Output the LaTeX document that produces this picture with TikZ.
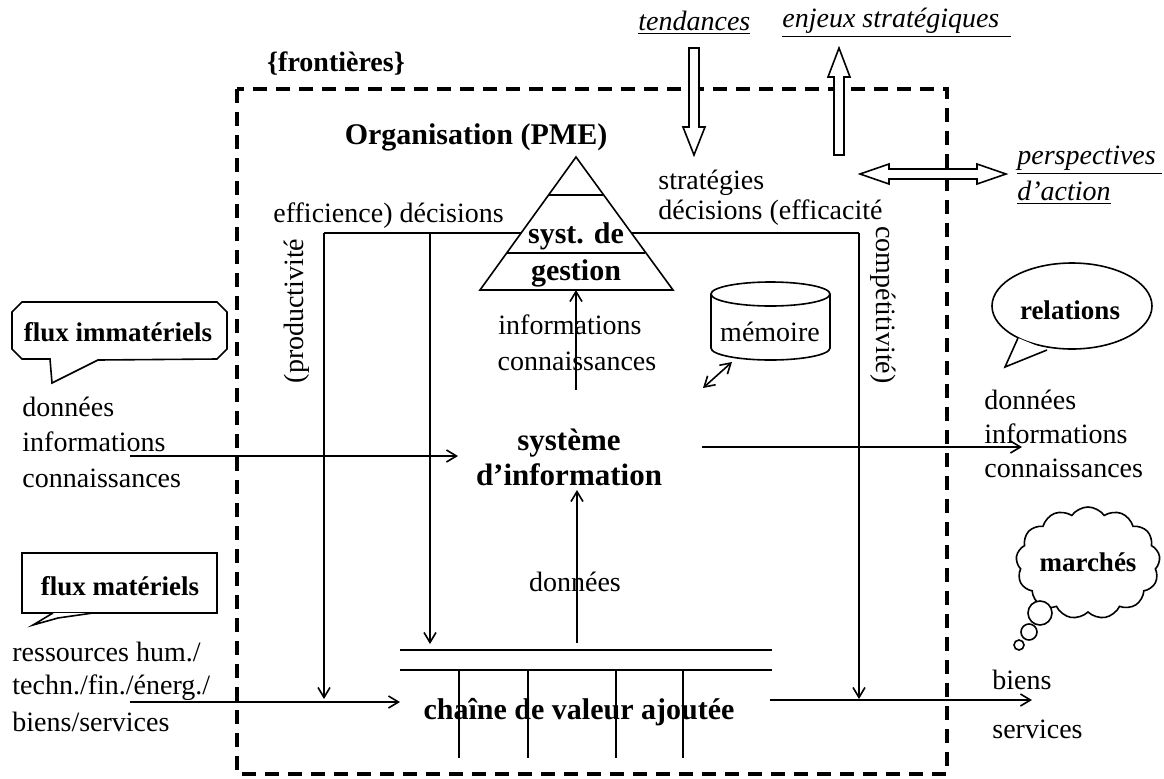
\documentclass[tikz,border=0pt]{standalone}
\usepackage{fontspec}
\setmainfont{Liberation Serif}
\usetikzlibrary{shapes.symbols,shapes.geometric,arrows.meta}
\begin{document}
\begin{tikzpicture}[x=0.5pt,y=-0.5pt,
  txt/.style={inner sep=0pt,font=\fontsize{14}{17}\selectfont},
  btxt/.style={inner sep=0pt,font=\fontsize{15}{17}\selectfont\bfseries},
  conn/.style={line width=0.8pt},
  arr/.style={line width=0.8pt,-{Straight Barb[length=5pt,width=6pt]}},
  hollow/.style={line width=0.8pt,fill=white},
  frame/.style={line width=1.8pt,dash pattern=on 7pt off 4.5pt}]
\useasboundingbox (0,0) rectangle (1164,778);
% frame
\draw[frame] (237,89) rectangle (947,774);
\node[btxt,font=\fontsize{14}{17}\selectfont\bfseries] (front) at (336,64) {\{frontières\}};
% top texts
\node[txt,anchor=west] (tend) at (638,23) {\underline{\textit{tendances}}};
\node[txt,anchor=west] (enj) at (782,23) {\underline{\textit{enjeux stratégiques}\hspace{6pt}}};
\node[txt,anchor=west,align=left] (persp) at (1017,160) {\underline{\textit{perspectives}\hspace{3pt}}};
\node[txt,anchor=west] (dact) at (1017,193) {\underline{\textit{d’action}}};
% hollow arrows
\draw[hollow] (689,48) -- (699,48) -- (699,127) -- (705,127) -- (694,155) -- (683,127) -- (689,127) -- cycle;
\draw[hollow] (834,155) -- (844,155) -- (844,77) -- (850,77) -- (839,48) -- (828,77) -- (834,77) -- cycle;
\draw[hollow] (860,174) -- (889,164) -- (889,169) -- (977,169) -- (977,164) -- (1006,174) -- (977,184) -- (977,179) -- (889,179) -- (889,184) -- cycle;
% organisation
\node[btxt] (org) at (476,137) {Organisation (PME)};
\coordinate (apex) at (576,157);
\coordinate (bl) at (480,290);
\coordinate (br) at (673,290);
\draw[conn] (apex) -- (bl) -- (br) -- cycle;
\draw[conn] (548.6,195) -- (603.4,195);
\draw[conn] (506.7,253) -- (645.3,253);
\node[btxt] (syst) at (576,236) {syst. de};
\node[btxt] (gest) at (576,273) {gestion};
% decisions lines
\coordinate (tl) at (521,233);
\coordinate (tr) at (631,233);
\coordinate (c1) at (324,233);
\coordinate (c2) at (430,233);
\coordinate (c3) at (859,233);
\coordinate (c1e) at (324,699);
\coordinate (c2e) at (430,644);
\coordinate (c3e) at (859,699);
\draw[conn] (tl) -- (c1);
\draw[arr] (c1) -- (c1e);
\draw[arr] (c2) -- (c2e);
\draw[conn] (tr) -- (c3);
\draw[arr] (c3) -- (c3e);
\node[txt,anchor=west] (effl) at (273,216) {efficience) décisions};
\node[txt,anchor=west] (strat) at (658,183) {stratégies};
\node[txt,anchor=west] (decr) at (658,213) {décisions (efficacité};
\node[txt,rotate=90] (prod) at (297,311) {(productivité};
\node[txt,rotate=-90] (comp) at (883,305) {compétitivité)};
% info arrow
\coordinate (ia) at (576,390);
\draw[arr] (ia) -- (576,290);
\node[txt] (inf1) at (570,325) {informations};
\node[txt] (inf2) at (577,361) {connaissances};
% memoire
\draw[conn,fill=white] (711,294) -- (711,348) arc[start angle=180,end angle=0,x radius=59.5,y radius=12] -- (830,294);
\draw[conn] (770.5,294) ellipse [x radius=59.5,y radius=12];
\node[txt] (mem) at (770,332) {mémoire};
\coordinate (m1) at (703,388);
\coordinate (m2) at (732,362);
\draw[line width=0.8pt,{Straight Barb[length=5pt,width=6pt]}-{Straight Barb[length=5pt,width=6pt]}] (m1) -- (m2);
% systeme d'information
\node[btxt,align=center,font=\fontsize{15.5}{17.5}\selectfont\bfseries] (si) at (569,457) {système\\d’information};
\coordinate (inL) at (130,456);
\coordinate (inR) at (458,456);
\draw[arr] (inL) -- (inR);
\coordinate (outL) at (702,447);
\coordinate (outR) at (1022,447);
\draw[arr] (outL) -- (outR);
% donnees arrow
\coordinate (dB) at (577,643);
\coordinate (dT) at (577,490);
\draw[arr] (dB) -- (dT);
\node[txt] (don) at (575,582) {données};
% chain
\draw[conn] (400,650) -- (772,650);
\draw[conn] (400,670) -- (772,670);
\foreach \xx in {459,528,616,683} {\draw[conn] (\xx,670) -- (\xx,758);}
\node[btxt] (chain) at (579,712) {chaîne de valeur ajoutée};
\coordinate (chL) at (130,702);
\coordinate (chLe) at (400,702);
\draw[arr] (chL) -- (chLe);
\coordinate (chR) at (770,700);
\coordinate (chRe) at (1032,700);
\draw[arr] (chR) -- (chRe);
% left texts
\node[txt,anchor=west] (l1) at (22,407) {données};
\node[txt,anchor=west] (l2) at (22,442) {informations};
\node[txt,anchor=west] (l3) at (22,478) {connaissances};
\node[txt,anchor=west] (l4) at (12,652) {ressources hum./};
\node[txt,anchor=west] (l5) at (12,688) {techn./fin./énerg./};
\node[txt,anchor=west] (l6) at (12,722) {biens/services};
% right texts
\node[txt,anchor=west] (r1) at (984,400) {données};
\node[txt,anchor=west] (r2) at (984,434) {informations};
\node[txt,anchor=west] (r3) at (984,468) {connaissances};
\node[txt,anchor=west] (r4) at (992,680) {biens};
\node[txt,anchor=west] (r5) at (992,729) {services};
% callouts
\draw[conn,fill=white] (22,302) -- (217,302) -- (227,312) -- (227,349) -- (217,359) -- (98,360) -- (52,383) -- (50,359) -- (22,359) -- (12,349) -- (12,312) -- cycle;
\node[btxt,font=\fontsize{13.5}{16}\selectfont\bfseries] (fimm) at (118,332) {flux immatériels};
\draw[conn] (22,553) rectangle (217,613);
\draw[conn,fill=white] (53,613) -- (33,625) -- (58,618) -- (93,613);
\node[btxt,font=\fontsize{13.5}{16}\selectfont\bfseries] (fmat) at (120,586) {flux matériels};
\node[draw,ellipse,line width=0.8pt,minimum width=80pt,minimum height=43pt,inner sep=0pt] (rel) at (1072,306) {};
\node[btxt,font=\fontsize{13.5}{16}\selectfont\bfseries] (relt) at (1070,310) {relations};
\draw[conn,fill=white] (1018,338) -- (1005,367) -- (1047,350);
\node[cloud,draw,line width=0.8pt,cloud puffs=13,cloud puff arc=110,aspect=1.3,minimum width=72pt,minimum height=56pt,inner sep=0pt] (mar) at (1088,563) {};
\node[btxt,font=\fontsize{13.5}{16}\selectfont\bfseries] (mart) at (1088,562) {marchés};
\draw[conn,fill=white] (1040,613) circle[radius=6pt];
\draw[conn,fill=white] (1029,632) circle[radius=4pt];
\draw[conn,fill=white] (1019,645) circle[radius=2.5pt];
\end{tikzpicture}
\end{document}
